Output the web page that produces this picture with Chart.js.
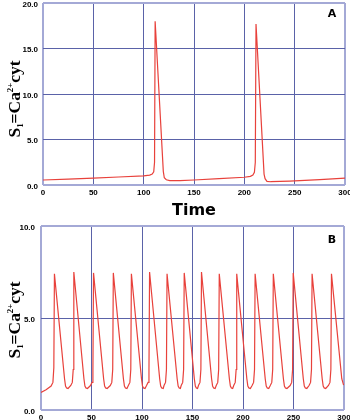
<!DOCTYPE html>
<html><head><meta charset="utf-8">
<script src="https://cdn.jsdelivr.net/npm/chart.js@4"></script>
<style>
html,body{margin:0;padding:0;background:#fff;width:350px;height:420px;overflow:hidden}
canvas{position:absolute;left:0}
#cA{top:0}
#cB{top:220px}
</style></head><body>
<canvas id="cA" width="350" height="220"></canvas>
<canvas id="cB" width="350" height="200"></canvas>
<script>
// ---- Data ----
const timesA  = [0, 25, 50, 75, 100, 106, 108.5, 110, 110.8, 111.4, 119.5, 120.5, 122.5, 126, 136, 150, 175, 200, 206, 208.5, 210, 210.9, 211.6, 219.6, 220.6, 222.5, 226, 245, 275, 300];
const valuesA = [0.55, 0.65, 0.75, 0.88, 1.0, 1.08, 1.2, 1.45, 2.5, 18.0, 1.5, 0.8, 0.58, 0.48, 0.47, 0.55, 0.7, 0.85, 0.95, 1.1, 1.4, 2.5, 17.7, 1.2, 0.7, 0.4, 0.36, 0.43, 0.6, 0.75];

const timesB = [
  0, 5, 10, 11.8, 12.7, 13.3,
  23.3, 24.3, 25.3, 26.8, 29.5, 31.0, 31.9, 32.5,
  42.5, 43.5, 44.5, 46.0, 49.0, 50.5, 51.4, 52.0,
  62.0, 63.0, 64.0, 65.5, 68.6, 70.1, 71.0, 71.6,
  81.6, 82.6, 83.6, 85.1, 86.5, 88.0, 88.9, 89.5,
  99.5, 100.5, 101.5, 103.0, 104.5, 106.0, 106.9, 107.5,
  117.5, 118.5, 119.5, 121.0, 121.8, 123.3, 124.2, 124.8,
  134.8, 135.8, 136.8, 138.0, 138.8, 140.3, 141.2, 141.8,
  151.8, 152.8, 153.8, 155.0, 155.9, 157.4, 158.3, 158.9,
  168.9, 169.9, 170.9, 172.4, 173.5, 175.0, 175.9, 176.5,
  186.5, 187.5, 188.5, 189.8, 190.8, 192.3, 193.2, 193.8,
  203.8, 204.8, 205.8, 207.3, 209.0, 210.5, 211.4, 212.0,
  222.0, 223.0, 224.0, 225.5, 227.0, 228.5, 229.4, 230.0,
  240.0, 241.0, 242.0, 243.5, 246.7, 248.2, 249.1, 249.7,
  259.7, 260.7, 261.7, 263.2, 265.4, 266.9, 267.8, 268.4,
  278.4, 279.4, 280.4, 281.9, 284.6, 286.1, 287.0, 287.6,
  297.8, 299.6
];
const valuesB = [
  0.95, 1.1, 1.3, 1.5, 2.3, 7.4,
  1.7, 1.3, 1.2, 1.17, 1.33, 1.5, 2.2, 7.5,
  1.7, 1.3, 1.2, 1.17, 1.33, 1.5, 2.2, 7.45,
  1.7, 1.3, 1.2, 1.17, 1.33, 1.5, 2.2, 7.45,
  1.7, 1.3, 1.2, 1.17, 1.33, 1.5, 2.2, 7.4,
  1.7, 1.3, 1.2, 1.17, 1.33, 1.5, 2.2, 7.5,
  1.7, 1.3, 1.2, 1.17, 1.33, 1.5, 2.2, 7.4,
  1.7, 1.3, 1.2, 1.17, 1.33, 1.5, 2.2, 7.45,
  1.7, 1.3, 1.2, 1.17, 1.33, 1.5, 2.2, 7.5,
  1.7, 1.3, 1.2, 1.17, 1.33, 1.5, 2.2, 7.4,
  1.7, 1.3, 1.2, 1.17, 1.33, 1.5, 2.2, 7.4,
  1.7, 1.3, 1.2, 1.17, 1.33, 1.5, 2.2, 7.4,
  1.7, 1.3, 1.2, 1.17, 1.33, 1.5, 2.2, 7.4,
  1.7, 1.3, 1.2, 1.17, 1.33, 1.5, 2.2, 7.45,
  1.7, 1.3, 1.2, 1.17, 1.33, 1.5, 2.2, 7.4,
  1.7, 1.3, 1.2, 1.17, 1.33, 1.5, 2.2, 7.4,
  1.7, 1.35
];

const xTicks  = [0, 50, 100, 150, 200, 250, 300];
const yTicksA = [0, 5, 10, 15, 20];
const yTicksB = [0, 5, 10];
// y-axis title "S1=Ca2+cyt" with subscript 1 and superscript 2+
const yTitleParts = [
  {text: 'S',   kind: 'normal'},
  {text: '1',   kind: 'sub'},
  {text: '=',   kind: 'normal'},
  {text: 'Ca',  kind: 'normal'},
  {text: '2+',  kind: 'sup'},
  {text: 'cyt', kind: 'normal'}
];
const xTitleA = 'Time';
const panelA  = 'A';
const panelB  = 'B';

// ---- Styles ----
const gridDark  = '#5a62a8';
const gridLight = '#a4a9d6';
const lineRed   = '#e8413b';
const tickFont  = {family: 'Liberation Sans', weight: 'bold', size: 8};

function drawYTitle(ctx, baseX, centerY, targetLen) {
  const fam = '"Liberation Serif"';
  const fontFor = k => (k === 'normal' ? 'bold 16px ' : 'bold 8px ') + fam;
  const shiftFor = k => (k === 'sub' ? 3 : (k === 'sup' ? -7 : 0));
  ctx.save();
  let total = 0;
  const widths = yTitleParts.map(p => { ctx.font = fontFor(p.kind); const w = ctx.measureText(p.text).width; total += w; return w; });
  ctx.translate(baseX, centerY);
  ctx.rotate(-Math.PI / 2);
  ctx.scale(targetLen / total, 1);
  ctx.fillStyle = '#000';
  ctx.textAlign = 'left';
  ctx.textBaseline = 'alphabetic';
  let x = -total / 2;
  yTitleParts.forEach((p, i) => {
    ctx.font = fontFor(p.kind);
    ctx.fillText(p.text, x, shiftFor(p.kind));
    x += widths[i];
  });
  ctx.restore();
}

function makeChart(id, times, values, yTicks, cfg) {
  const yMin = yTicks[0], yMax = yTicks[yTicks.length - 1];
  const xMin = xTicks[0], xMax = xTicks[xTicks.length - 1];
  const pts = times.map((t, i) => ({x: t, y: values[i]}));
  return new Chart(document.getElementById(id), {
    type: 'line',
    data: {datasets: [{data: pts, borderColor: lineRed, borderWidth: 1.2, pointRadius: 0, tension: 0, fill: false}]},
    options: {
      responsive: false, animation: false, devicePixelRatio: 1,
      layout: {padding: cfg.padding},
      plugins: {legend: {display: false}, tooltip: {enabled: false}},
      scales: {
        x: {
          type: 'linear', min: xMin, max: xMax,
          afterBuildTicks: s => { s.ticks = xTicks.map(v => ({value: v})); },
          afterFit: s => { s.height = cfg.xHeight; s.paddingLeft = 0; s.paddingRight = 0; },
          grid: {drawTicks: false,
            color: c => (c.tick && (c.tick.value === xMin || c.tick.value === xMax)) ? gridLight : gridDark,
            lineWidth: c => (c.tick && (c.tick.value === xMin || c.tick.value === xMax)) ? 2 : 1},
          border: {display: false},
          ticks: {font: tickFont, color: '#000', padding: cfg.xPad, maxRotation: 0, autoSkip: false,
                  callback: v => String(v)},
          title: cfg.xTitle ? {display: true, text: cfg.xTitle, color: '#000',
                  font: {family: 'DejaVu Sans', weight: 'bold', size: 16, lineHeight: 1.2},
                  padding: {top: 0, bottom: 0}} : {display: false}
        },
        y: {
          type: 'linear', min: yMin, max: yMax,
          afterBuildTicks: s => { s.ticks = yTicks.map(v => ({value: v})); },
          afterFit: s => { s.width = cfg.yWidth; s.paddingTop = 0; s.paddingBottom = 0; },
          grid: {drawTicks: false,
            color: c => (c.tick && (c.tick.value === yMin || c.tick.value === yMax)) ? gridLight : gridDark,
            lineWidth: c => (c.tick && (c.tick.value === yMin || c.tick.value === yMax)) ? 2 : 1},
          border: {display: false},
          ticks: {font: tickFont, color: '#000', padding: cfg.yPad, labelOffset: 1.5,
                  callback: v => v.toFixed(1)},
          title: {display: false}
        }
      }
    },
    plugins: [{
      id: 'extraText',
      afterDraw(chart) {
        const ctx = chart.ctx;
        drawYTitle(ctx, 19.5, cfg.titleY, 77);
        ctx.save();
        ctx.font = 'bold 11px "DejaVu Sans"';
        ctx.fillStyle = '#000';
        ctx.textAlign = 'center';
        ctx.textBaseline = 'middle';
        ctx.fillText(cfg.panel, cfg.panelX, cfg.panelY);
        ctx.restore();
      }
    }]
  });
}

makeChart('cA', timesA, valuesA, yTicksA, {
  padding: {left: 0, right: 5, top: 3, bottom: 0},
  xHeight: 35, yWidth: 43, yPad: 5, xPad: 3, xTitle: xTitleA, titleY: 99,
  panel: panelA, panelX: 332, panelY: 14
});
makeChart('cB', timesB, valuesB, yTicksB, {
  padding: {left: 0, right: 6, top: 6, bottom: 0},
  xHeight: 10, yWidth: 41, yPad: 6, xPad: 3, xTitle: null, titleY: 100,
  panel: panelB, panelX: 332, panelY: 20
});
</script>
</body></html>
